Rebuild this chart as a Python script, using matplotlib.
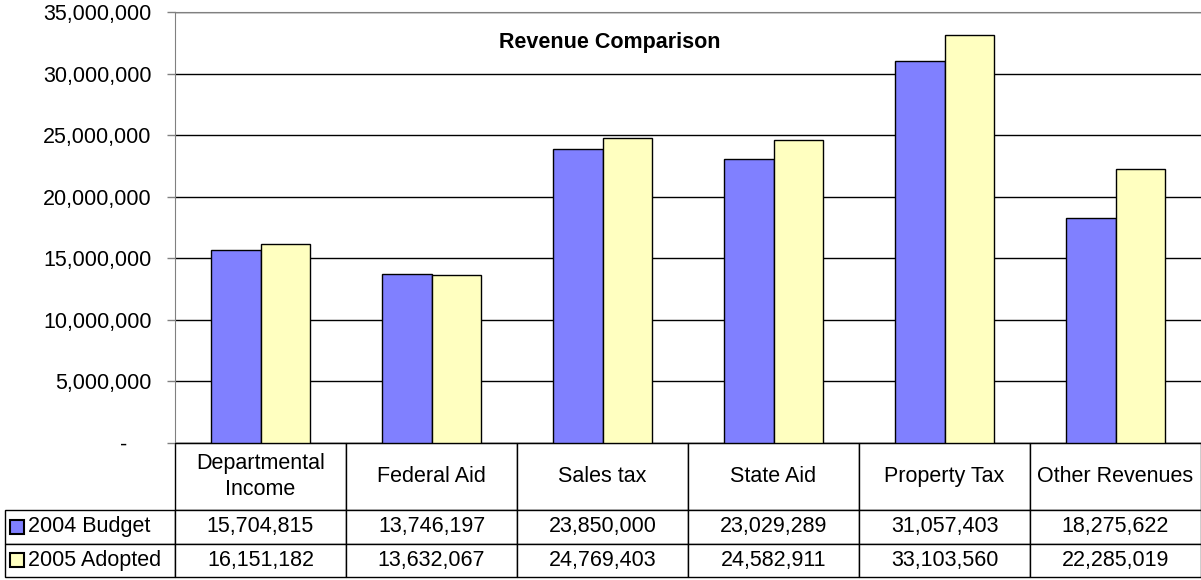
import numpy as np
import matplotlib.pyplot as plt
from matplotlib.table import Table
from matplotlib.patches import Rectangle
from matplotlib.ticker import FuncFormatter

categories = ['Departmental\nIncome', 'Federal Aid', 'Sales tax', 'State Aid', 'Property Tax', 'Other Revenues']
series_names = ['2004 Budget', '2005 Adopted']
budget_2004 = [15704815, 13746197, 23850000, 23029289, 31057403, 18275622]
adopted_2005 = [16151182, 13632067, 24769403, 24582911, 33103560, 22285019]
colors = ['#8080FF', '#FFFFC0']

plt.rcParams['font.family'] = ['Liberation Sans', 'DejaVu Sans']
FS = 15.5

fig = plt.figure(figsize=(12.01, 5.8), dpi=100)
ax = fig.add_axes([175 / 1201, 1 - 443 / 580, 1026 / 1201, 431 / 580])

x = np.arange(len(categories))
w = 0.292
ax.bar(x - w / 2, budget_2004, w, color=colors[0], edgecolor='black', linewidth=1, zorder=3)
ax.bar(x + w / 2, adopted_2005, w, color=colors[1], edgecolor='black', linewidth=1, zorder=3)

ax.set_xlim(-0.5, len(categories) - 0.5)
ax.set_ylim(0, 35000000)
ax.set_yticks(np.arange(0, 35000001, 5000000))
ax.yaxis.set_major_formatter(FuncFormatter(lambda v, p: '-    ' if v == 0 else f'{v:,.0f}'))
ax.yaxis.grid(True, color='black', linewidth=1, zorder=0)
ax.set_axisbelow(True)
ax.tick_params(axis='y', length=6, width=1, pad=11, labelsize=FS, color='#808080')
ax.set_xticks([])
for s in ['left', 'top']:
    ax.spines[s].set_color('#808080')
ax.spines['right'].set_visible(False)
ax.spines['bottom'].set_color('black')

ax.text(0.424, 0.93, 'Revenue Comparison', transform=ax.transAxes, ha='center', va='center',
        fontsize=FS, fontweight='bold')

# data table under the plot
label_w = 170 / 1026
col_w = 1 / len(categories)
h_head = 67 / 431
h_row = 33.5 / 431
tbl = Table(ax)
tbl.auto_set_font_size(False)
c = tbl.add_cell(0, 0, label_w, h_head, text='', loc='left')
c.visible_edges = ''
for j, cat in enumerate(categories):
    cell = tbl.add_cell(0, j + 1, col_w, h_head, text=cat, loc='center')
    cell.get_text().set_linespacing(1.3)
rows = [budget_2004, adopted_2005]
for i, (name, vals) in enumerate(zip(series_names, rows)):
    cell = tbl.add_cell(i + 1, 0, label_w, h_row, text=name, loc='left')
    cell.PAD = 23 / 170
    for j, v in enumerate(vals):
        tbl.add_cell(i + 1, j + 1, col_w, h_row, text=f'{v:,.0f}', loc='center')
for cell in tbl.get_celld().values():
    cell.set_linewidth(1)
    cell.set_edgecolor('black')
    cell.get_text().set_fontsize(FS)
tbl._bbox = [-label_w, -(h_head + 2 * h_row), label_w + 1, h_head + 2 * h_row]
ax.add_table(tbl)

# legend keys in the row label cells
for i in range(2):
    yc = -h_head - (i + 0.5) * h_row
    ax.add_patch(Rectangle((-label_w + 5 / 1026, yc - 7 / 431), 14 / 1026, 14 / 431,
                           transform=ax.transAxes, facecolor=colors[i], edgecolor='black',
                           linewidth=1.5, clip_on=False, zorder=5))

fig.savefig('out.png', dpi=100)
